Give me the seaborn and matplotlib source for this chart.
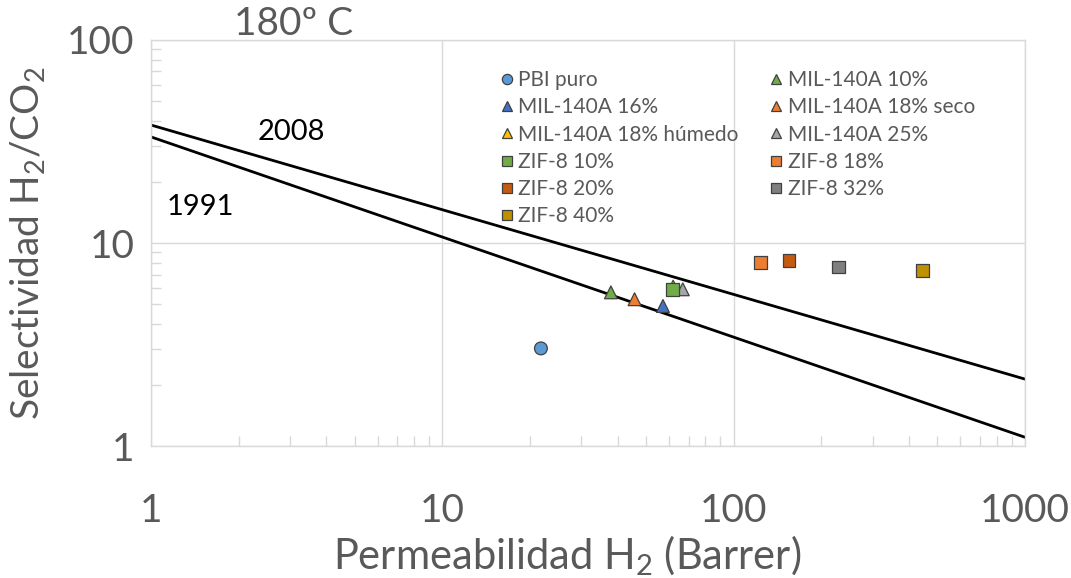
import numpy as np
import pandas as pd
import matplotlib
matplotlib.use("Agg")
import matplotlib.pyplot as plt
import seaborn as sns
from matplotlib.ticker import LogLocator, NullFormatter, FixedLocator

# Datos
series = ["PBI puro", "MIL-140A 10%", "MIL-140A 16%", "MIL-140A 18% seco",
          "MIL-140A 18% húmedo", "MIL-140A 25%", "ZIF-8 10%", "ZIF-8 18%",
          "ZIF-8 20%", "ZIF-8 32%", "ZIF-8 40%"]
permeabilidad = [21.8, 37.9, 57.2, 45.7, 62.0, 66.9, 61.8, 124, 155, 229, 446]
selectividad = [3.03, 5.72, 4.90, 5.29, 6.1, 5.92, 5.93, 8.0, 8.22, 7.62, 7.34]
marcadores = ["o", "^", "^", "^", "^", "^", "s", "s", "s", "s", "s"]
colores = ["#5B9BD5", "#70AD47", "#4472C4", "#ED7D31", "#FFC000", "#A5A5A5",
           "#70AD47", "#ED7D31", "#C55A11", "#7F7F7F", "#BF9000"]

# Limites de Robeson (extremos)
limite_x = [1, 1000]
limite_2008 = [38.1, 2.14]
limite_1991 = [33.3, 1.107]

df = pd.DataFrame({"serie": series, "P": permeabilidad, "S": selectividad})

sns.set_style("white")
plt.rcParams['font.family'] = ['Lato', 'DejaVu Sans']
plt.rcParams['mathtext.fontset'] = 'custom'
plt.rcParams['mathtext.rm'] = 'Lato'
plt.rcParams['mathtext.it'] = 'Lato'

gris = "#595959"
fig = plt.figure(figsize=(10.71, 5.78), dpi=100)
ax = fig.add_axes([0.141, 0.228, 0.816, 0.703])

sns.lineplot(x=limite_x, y=limite_2008, color="black", lw=2, ax=ax, zorder=2)
sns.lineplot(x=limite_x, y=limite_1991, color="black", lw=2, ax=ax, zorder=2)

sns.scatterplot(data=df, x="P", y="S", hue="serie", style="serie",
                palette=dict(zip(series, colores)),
                markers=dict(zip(series, marcadores)),
                s=85, edgecolor="#404040", linewidth=0.9, ax=ax, zorder=3)

ax.set_xscale("log")
ax.set_yscale("log")
ax.set_xlim(1, 1000)
ax.set_ylim(1, 100)

ax.xaxis.set_major_locator(FixedLocator([1, 10, 100, 1000]))
ax.yaxis.set_major_locator(FixedLocator([1, 10, 100]))
ax.set_xticklabels(["1", "10", "100", "1000"])
ax.set_yticklabels(["1", "10", "100"])
ax.xaxis.set_minor_locator(LogLocator(base=10, subs=np.arange(2, 10)))
ax.yaxis.set_minor_locator(LogLocator(base=10, subs=np.arange(2, 10)))
ax.xaxis.set_minor_formatter(NullFormatter())
ax.yaxis.set_minor_formatter(NullFormatter())

ax.grid(True, which="major", color="#D9D9D9", lw=1)
for sp in ax.spines.values():
    sp.set_color("#D9D9D9")
    sp.set_linewidth(1)
ax.tick_params(which="major", length=0, labelsize=28, labelcolor=gris)
ax.tick_params(axis="x", which="major", pad=34)
ax.tick_params(axis="y", which="major", pad=12)
ax.tick_params(which="minor", direction="in", length=7, color="#D9D9D9",
               width=1, bottom=True, left=True)

ax.set_xlabel(r"Permeabilidad H$_2$ (Barrer)", fontsize=30, color=gris)
ax.xaxis.set_label_coords(0.476, -0.215)
ax.set_ylabel(r"Selectividad H$_2$/CO$_2$", fontsize=28, color=gris, labelpad=14)
fig.text(0.274, 0.958, "180º C", fontsize=28, color=gris, ha="center", va="center")

ax.text(2.33, 35.2, "2008", fontsize=21, color="black", ha="left", va="center")
ax.text(1.13, 15.0, "1991", fontsize=21, color="black", ha="left", va="center")

handles, labels = ax.get_legend_handles_labels()
h = dict(zip(labels, handles))
orden = ["PBI puro", "MIL-140A 16%", "MIL-140A 18% húmedo", "ZIF-8 10%",
         "ZIF-8 20%", "ZIF-8 40%", "MIL-140A 10%", "MIL-140A 18% seco",
         "MIL-140A 25%", "ZIF-8 18%", "ZIF-8 32%"]
leg = ax.legend([h[k] for k in orden], orden, ncol=2, loc="upper left",
                bbox_to_anchor=(0.40, 0.926), frameon=False, fontsize=15,
                labelcolor=gris, handlelength=0.6, handletextpad=0.25,
                columnspacing=1.5, labelspacing=0.35, markerscale=0.8,
                borderaxespad=0, borderpad=0)

fig.savefig("out.png", dpi=100)
